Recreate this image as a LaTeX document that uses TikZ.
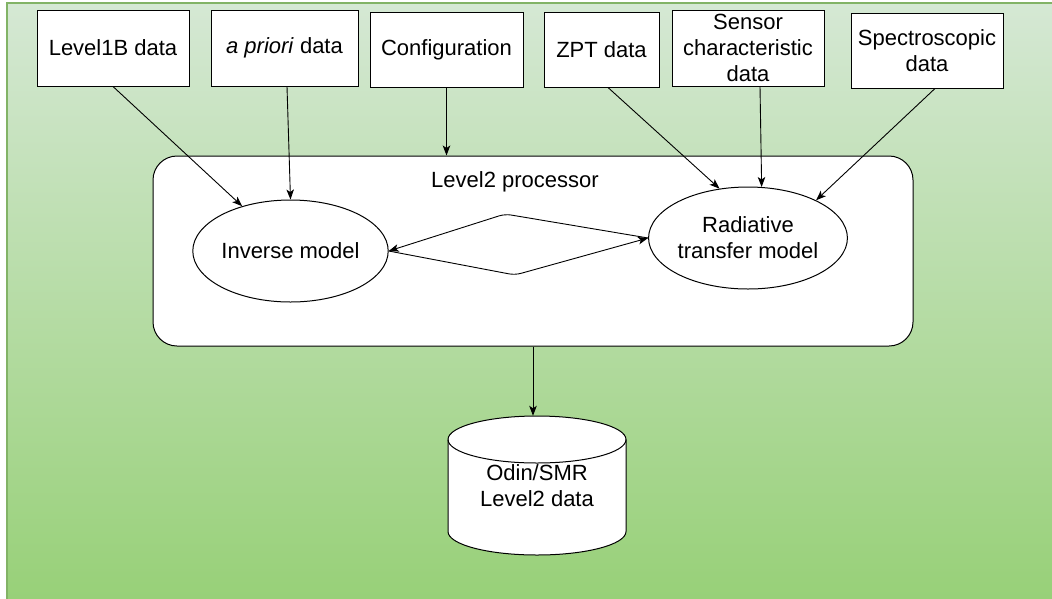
\documentclass[tikz,border=0pt]{standalone}
\usepackage{fontspec}
\setmainfont{Liberation Sans}
\usetikzlibrary{arrows.meta,calc,shapes.geometric}
\definecolor{bgtop}{HTML}{D5E8D4}
\definecolor{bgbot}{HTML}{97D077}
\definecolor{bgline}{HTML}{82B366}
\begin{document}
\begin{tikzpicture}[x=1pt,y=-1pt,
  font=\fontsize{22}{26}\selectfont,
  src/.style={draw=black, fill=white, line width=1pt, align=center, inner sep=0pt},
  model/.style={ellipse, draw=black, fill=white, line width=1pt, align=center, inner sep=0pt},
  conn/.style={-{Stealth[length=10pt,width=7.5pt,inset=2.5pt]}, line width=0.9pt}]
\useasboundingbox (0,0) rectangle (1052,598);
\clip (0,0) rectangle (1052,598);

% green background panel
\shade[top color=bgtop, bottom color=bgbot] (7,3) rectangle (1060,606);
\draw[bgline, line width=1.2pt] (1060,3) -- (7,3) -- (7,606);

% input data sources
\node[src, minimum width=152, minimum height=76] (l1b)  at (113,48)   {Level1B data};
\node[src, minimum width=147, minimum height=76] (apri) at (284.5,48) {\textit{a priori} data};
\node[src, minimum width=153, minimum height=75] (conf) at (446.5,49.5) {Configuration};
\node[src, minimum width=115, minimum height=75] (zpt)  at (601.5,49.5) {ZPT data};
\node[src, minimum width=152, minimum height=76] (sens) at (748,48)   {Sensor\\characteristic\\data};
\node[src, minimum width=152, minimum height=75] (spec) at (927,50.5) {Spectroscopic\\data};

% processor with its two models
\node[draw=black, fill=white, line width=1pt, rounded corners=24,
      minimum width=760, minimum height=190] (proc) at (533,251) {};
\node (proclbl) at (515,182) {Level2 processor};
\node[model, minimum width=179, minimum height=102] (inv) at (290.5,251) {Inverse model};
\node[model, minimum width=178, minimum height=102] (rad) at (748,238) {Radiative\\transfer model};

% output database
\filldraw[fill=white, draw=black, line width=1pt]
  (448,439.5) -- (448,531.5)
  arc[start angle=180, end angle=0, x radius=89, y radius=23.5]
  -- (626,439.5)
  arc[start angle=0, end angle=-180, x radius=89, y radius=23.5] -- cycle;
\draw[line width=1pt] (448,439.5) arc[start angle=180, end angle=0, x radius=89, y radius=23.5];
\node[align=center, minimum width=178, minimum height=139, inner sep=0pt] (db) at (537,485.5)
  {Odin/SMR\\Level2 data};

% data flow
\draw[conn] (l1b.south) -- (inv);
\draw[conn] ($(apri.south)+(2.5,0)$) -- (inv.north);
\draw[conn] (conf.south) -- (conf.south |- proc.north);
\draw[conn] ($(zpt.south)+(6.5,0)$) -- (rad.120);
\draw[conn] ($(sens.south)+(12,0)$) -- (rad.75);
\draw[conn] ($(spec.south)+(8,0)$) -- (rad.29);
\draw[conn, rounded corners=6] (rad.west) -- (505,214) -- (inv.east);
\draw[conn, rounded corners=6] (inv.east) -- (515,275) -- (rad.west);
\draw[conn] (proc.south) -- (proc.south |- db.north);
\end{tikzpicture}
\end{document}
